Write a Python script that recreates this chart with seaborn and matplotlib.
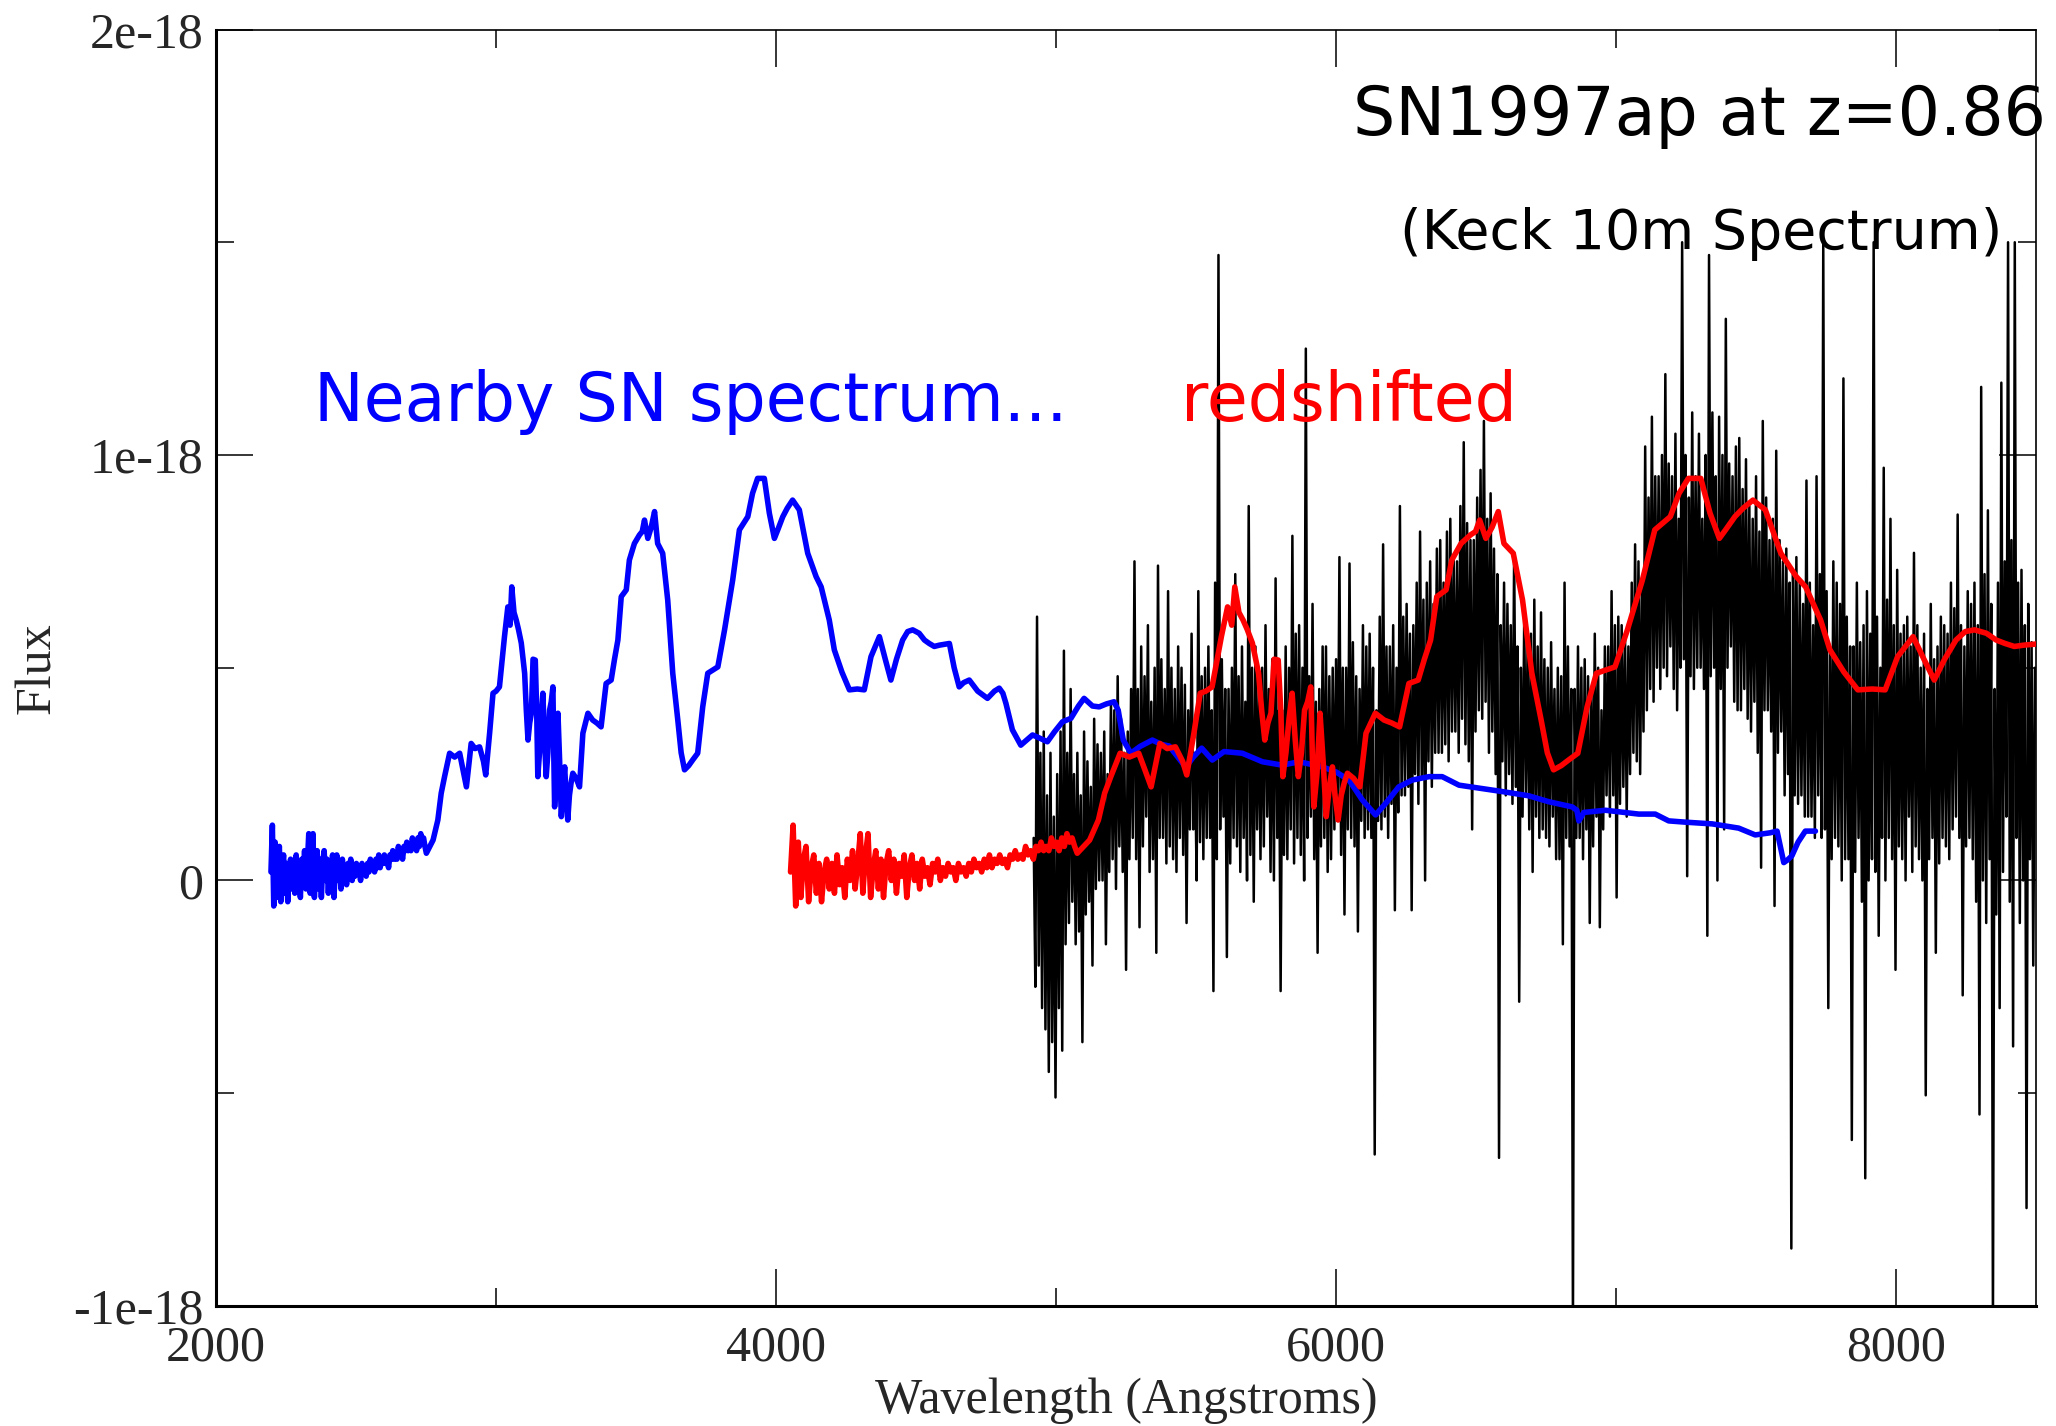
import numpy as np
import pandas as pd
import matplotlib
matplotlib.use("Agg")
import matplotlib.pyplot as plt
import seaborn as sns
from matplotlib.ticker import FixedLocator, FixedFormatter

# ---------------- data (flux in units of 1e-18) ----------------
flux_unit = 1e-18
stretch = 1.845  # wavelength stretch of the nearby spectrum (1+z as drawn)

# nearby SN spectrum (blue): noisy UV part sampled every 5 A from 2196 A
blue_noise_start = 2196
blue_noise_step = 5
blue_noise_flux = [
    0.02, 0.13, -0.06, 0.09, -0.04, 0.05, 0.08, -0.05, 0.03, 0.06,
    -0.03, 0.04, -0.05, 0.02, 0.05, -0.02, 0.04, -0.03, 0.06, -0.01,
    0.03, -0.04, 0.05, 0.00, 0.07, -0.02, 0.04, 0.11, -0.03, 0.06,
    0.11, -0.04, 0.03, 0.07, -0.02, 0.05, -0.04, 0.04, 0.07, 0.00,
    0.05, -0.03, 0.04, 0.01, 0.06, -0.04, 0.03, 0.06, 0.00, 0.04,
    -0.02, 0.05, 0.01, 0.03, -0.01, 0.04, 0.02, 0.05, 0.00, 0.03,
    0.01, 0.04, 0.02, 0.03, 0.00, 0.04, 0.02, 0.03, 0.01, 0.04,
    0.02, 0.05, 0.03, 0.04, 0.02, 0.05, 0.03, 0.06, 0.03, 0.05,
    0.04, 0.06, 0.04, 0.05, 0.03, 0.06, 0.05, 0.07, 0.05, 0.06,
    0.05, 0.08, 0.06, 0.07, 0.05, 0.08, 0.07, 0.09, 0.07, 0.08,
    0.07, 0.10, 0.08, 0.09, 0.07, 0.10, 0.08, 0.11, 0.09, 0.10,
    0.08,
]
blue_wave = [
    2751, 2775, 2792, 2804, 2816, 2834, 2852, 2870, 2882, 2894,
    2911, 2925, 2941, 2955, 2963, 2977, 2989, 3000, 3012, 3030,
    3042, 3050, 3056, 3064, 3072, 3080, 3090, 3102, 3108, 3114,
    3120, 3126, 3132, 3140, 3145, 3149, 3155, 3161, 3167, 3173,
    3179, 3185, 3191, 3197, 3203, 3206, 3209, 3215, 3221, 3227,
    3233, 3239, 3245, 3250, 3256, 3262, 3268, 3274, 3286, 3298,
    3310, 3328, 3345, 3360, 3375, 3393, 3411, 3423, 3435, 3447,
    3465, 3476, 3494, 3512, 3522, 3530, 3542, 3554, 3566, 3577,
    3595, 3613, 3631, 3649, 3661, 3673, 3688, 3702, 3720, 3738,
    3756, 3775, 3792, 3816, 3845, 3869, 3899, 3916, 3934, 3958,
    3976, 3994, 4006, 4024, 4040, 4059, 4083, 4113, 4143, 4161,
    4190, 4208, 4235, 4262, 4290, 4315, 4339, 4369, 4390, 4410,
    4430, 4452, 4470, 4488, 4511, 4530, 4547, 4565, 4583, 4600,
    4619, 4636, 4654, 4670, 4690, 4720, 4755, 4780, 4797, 4810,
    4821, 4844, 4874, 4895, 4916, 4940, 4969, 4995, 5023, 5053,
    5080, 5100, 5130, 5154, 5180, 5207, 5222, 5240, 5267, 5300,
    5344, 5375, 5404, 5435, 5463, 5490, 5520, 5558, 5600, 5665,
    5737, 5808, 5868, 5951, 6000, 6046, 6094, 6141, 6177, 6224,
    6272, 6332, 6379, 6439, 6510, 6593, 6688, 6760, 6843, 6860,
    6867, 6885, 6962, 7081, 7140, 7188, 7248, 7343, 7438, 7497,
    7550, 7575, 7590, 7599, 7612, 7628, 7650, 7676, 7712,
]
blue_flux = [
    0.064, 0.095, 0.142, 0.205, 0.244, 0.299, 0.290, 0.299, 0.260, 0.220,
    0.322, 0.310, 0.314, 0.280, 0.248, 0.347, 0.440, 0.445, 0.455, 0.573,
    0.643, 0.600, 0.690, 0.630, 0.612, 0.590, 0.558, 0.487, 0.400, 0.330,
    0.370, 0.393, 0.520, 0.518, 0.400, 0.244, 0.300, 0.380, 0.440, 0.330,
    0.244, 0.300, 0.400, 0.420, 0.455, 0.300, 0.173, 0.250, 0.393, 0.280,
    0.150, 0.220, 0.267, 0.200, 0.142, 0.200, 0.230, 0.252, 0.240, 0.220,
    0.346, 0.393, 0.377, 0.370, 0.361, 0.463, 0.471, 0.520, 0.565, 0.667,
    0.683, 0.753, 0.792, 0.812, 0.820, 0.847, 0.804, 0.830, 0.867, 0.792,
    0.769, 0.659, 0.487, 0.377, 0.300, 0.260, 0.270, 0.283, 0.299, 0.408,
    0.487, 0.495, 0.502, 0.589, 0.706, 0.824, 0.855, 0.910, 0.945, 0.945,
    0.863, 0.804, 0.824, 0.855, 0.875, 0.894, 0.871, 0.769, 0.714, 0.690,
    0.612, 0.542, 0.490, 0.448, 0.450, 0.448, 0.526, 0.573, 0.520, 0.471,
    0.520, 0.565, 0.585, 0.589, 0.581, 0.565, 0.557, 0.550, 0.553, 0.555,
    0.557, 0.500, 0.455, 0.465, 0.471, 0.445, 0.428, 0.445, 0.452, 0.440,
    0.416, 0.354, 0.318, 0.330, 0.342, 0.335, 0.326, 0.350, 0.373, 0.381,
    0.410, 0.428, 0.410, 0.408, 0.415, 0.420, 0.400, 0.330, 0.299, 0.315,
    0.330, 0.320, 0.316, 0.290, 0.266, 0.290, 0.311, 0.283, 0.303, 0.299,
    0.279, 0.271, 0.279, 0.267, 0.255, 0.236, 0.189, 0.154, 0.181, 0.220,
    0.236, 0.244, 0.244, 0.224, 0.217, 0.209, 0.199, 0.185, 0.173, 0.165,
    0.140, 0.160, 0.165, 0.156, 0.156, 0.140, 0.137, 0.133, 0.123, 0.107,
    0.112, 0.116, 0.070, 0.042, 0.048, 0.058, 0.090, 0.116, 0.116,
]

# observed Keck spectrum (black), sampled every 6 A from 4920 A
black_start = 4920
black_step = 6
black_flux = [
    0.10, -0.25, 0.62, -0.20, 0.30, -0.30, 0.35, -0.35, 0.20, -0.45,
    0.30, -0.38, 0.15, -0.51, 0.25, -0.30, 0.35, -0.40, 0.54, -0.15,
    0.30, -0.10, 0.45, -0.05, 0.25, -0.15, 0.30, -0.12, 0.20, -0.38,
    0.35, -0.08, 0.28, -0.05, 0.22, -0.20, 0.38, -0.02, 0.32, 0.00,
    0.30, 0.00, 0.35, -0.15, 0.25, 0.02, 0.42, 0.05, 0.40, -0.02,
    0.48, 0.08, 0.38, 0.02, 0.30, -0.21, 0.35, 0.05, 0.45, 0.10,
    0.75, 0.05, 0.45, -0.11, 0.55, 0.08, 0.48, 0.15, 0.60, 0.02,
    0.42, 0.05, 0.50, -0.17, 0.74, 0.10, 0.52, 0.10, 0.45, 0.04,
    0.68, 0.08, 0.50, 0.05, 0.45, 0.02, 0.55, 0.10, 0.50, 0.06,
    0.46, -0.10, 0.40, 0.12, 0.58, 0.12, 0.30, 0.00, 0.68, 0.09,
    0.48, 0.05, 0.50, 0.10, 0.55, 0.10, 0.40, -0.26, 0.70, 0.05,
    1.47, 0.12, 0.52, 0.15, 0.45, -0.18, 0.45, 0.04, 0.50, 0.10,
    0.72, 0.08, 0.48, 0.02, 0.55, 0.10, 0.42, 0.00, 0.88, 0.06,
    0.50, -0.05, 0.55, 0.12, 0.46, 0.05, 0.50, 0.08, 0.60, 0.15,
    0.45, 0.02, 0.52, 0.00, 0.71, 0.10, 0.40, -0.26, 0.40, 0.06,
    0.55, 0.05, 0.50, 0.12, 0.81, 0.04, 0.58, 0.10, 0.60, 0.06,
    0.50, 0.00, 1.25, 0.10, 0.48, 0.15, 0.65, 0.05, 0.42, -0.17,
    0.45, 0.08, 0.55, 0.10, 0.55, 0.02, 0.48, 0.05, 0.50, 0.12,
    0.52, 0.15, 0.76, 0.06, 0.50, -0.08, 0.50, 0.12, 0.745, 0.10,
    0.56, 0.08, 0.48, -0.12, 0.45, 0.14, 0.60, 0.10, 0.55, 0.12,
    0.58, 0.10, 0.50, -0.644, 0.40, 0.14, 0.62, 0.12, 0.79, 0.15,
    0.55, 0.10, 0.55, 0.18, 0.60, -0.07, 0.50, 0.16, 0.88, 0.20,
    0.62, 0.20, 0.65, 0.22, 0.58, -0.07, 0.60, 0.25, 0.70, 0.18,
    0.82, 0.24, 0.66, 0.00, 0.70, 0.28, 0.75, 0.22, 0.65, 0.30,
    0.78, 0.30, 0.80, 0.30, 0.70, 0.32, 0.82, 0.28, 0.85, 0.35,
    0.76, 0.35, 0.75, 0.30, 0.88, 0.38, 1.03, 0.32, 0.84, 0.28,
    0.80, 0.12, 0.80, 0.35, 0.90, 0.40, 0.965, 0.38, 1.08, 0.42,
    0.85, 0.30, 0.91, 0.35, 0.78, 0.25, 0.72, -0.652, 0.60, 0.28,
    0.70, 0.20, 0.65, 0.25, 0.60, 0.18, 0.77, 0.22, 0.55, -0.285,
    0.50, 0.15, 0.62, 0.20, 0.55, 0.12, 0.58, 0.02, 0.66, 0.15,
    0.55, 0.10, 0.63, 0.12, 0.52, 0.10, 0.50, 0.08, 0.56, 0.15,
    0.45, 0.05, 0.50, 0.05, 0.48, -0.15, 0.70, 0.10, 0.55, 0.08,
    0.45, -1.05, 0.45, 0.10, 0.55, 0.10, 0.50, 0.05, 0.52, 0.12,
    0.48, -0.10, 0.45, 0.08, 0.58, 0.15, 0.50, -0.11, 0.40, 0.12,
    0.55, 0.20, 0.55, 0.15, 0.68, 0.20, 0.60, -0.04, 0.62, 0.18,
    0.60, 0.22, 0.58, 0.15, 0.55, 0.25, 0.70, 0.30, 0.79, 0.28,
    0.75, 0.25, 0.70, 0.35, 1.02, 0.40, 0.90, 0.45, 1.09, 0.42,
    0.95, 0.50, 0.95, 0.45, 1.00, 0.50, 1.19, 0.48, 0.98, 0.55,
    0.95, 0.45, 1.05, 0.40, 0.85, 0.50, 1.50, 0.52, 1.00, 0.01,
    0.90, 0.48, 1.10, 0.45, 0.95, 0.50, 1.05, 0.50, 0.85, 0.45,
    1.00, -0.13, 1.47, 0.48, 1.10, 0.50, 0.95, 0.00, 1.09, 0.45,
    1.00, 0.12, 1.32, 0.50, 0.98, 0.55, 0.95, 0.42, 1.02, 0.40,
    1.04, 0.40, 0.92, 0.45, 0.99, 0.38, 0.88, 0.35, 0.85, 0.42,
    0.95, 0.30, 0.82, 0.03, 1.08, 0.40, 0.90, 0.40, 0.80, 0.35,
    0.85, -0.06, 1.01, 0.30, 0.80, 0.35, 0.75, 0.20, 0.78, 0.25,
    0.70, -0.865, 0.72, 0.20, 0.76, 0.18, 0.70, 0.20, 0.65, 0.15,
    0.94, 0.15, 0.70, 0.15, 0.60, 0.10, 0.95, 0.20, 0.72, 0.10,
    1.50, 0.12, 0.68, -0.30, 0.55, 0.05, 0.75, 0.10, 0.70, 0.08,
    0.65, 0.00, 1.18, 0.05, 0.62, 0.05, 0.55, -0.61, 0.55, 0.02,
    0.70, 0.10, 0.56, -0.05, 0.60, -0.70, 0.68, 0.00, 0.58, 0.05,
    1.50, 0.02, 0.62, -0.13, 0.50, 0.10, 0.97, 0.00, 0.66, 0.10,
    0.85, 0.05, 0.60, -0.21, 0.73, 0.08, 0.58, 0.05, 0.60, 0.00,
    0.62, 0.15, 0.55, 0.02, 0.77, 0.08, 0.60, 0.05, 0.50, 0.00,
    0.58, -0.505, 0.45, 0.05, 0.65, 0.10, 0.52, -0.17, 0.55, 0.04,
    0.62, 0.10, 0.60, 0.08, 0.58, 0.05, 0.70, 0.12, 0.64, 0.15,
    0.86, 0.10, 0.60, -0.27, 0.55, 0.08, 0.68, 0.10, 0.65, 0.05,
    0.70, -0.05, 0.60, -0.55, 1.16, 0.00, 0.72, -0.10, 0.87, 0.05,
    0.65, -1.05, 0.45, -0.08, 0.70, -0.30, 1.17, 0.02, 0.75, 0.15,
    1.50, -0.05, 0.80, -0.39, 1.50, 0.10, 0.70, -0.10, 0.73, 0.00,
    0.60, -0.77, 0.65, 0.05, 0.56, -0.20, 0.50,
]

xtick_major = [2000, 4000, 6000, 8000]
xtick_labels = ["2000", "4000", "6000", "8000"]
xtick_minor = [3000, 5000, 7000]
ytick_major = [-1, 0, 1, 2]
ytick_labels = ["-1e-18", "0", "1e-18", "2e-18"]
ytick_minor = [-0.5, 0.5, 1.5]

# ---------------- tables ----------------
bn_wave = blue_noise_start + blue_noise_step * np.arange(len(blue_noise_flux))
df_blue = pd.DataFrame({
    "wave": np.concatenate([bn_wave, np.array(blue_wave, float)]),
    "flux": np.concatenate([np.array(blue_noise_flux), np.array(blue_flux)]) * flux_unit,
})
df_red = pd.DataFrame({"wave": df_blue["wave"] * stretch, "flux": df_blue["flux"]})
df_black = pd.DataFrame({
    "wave": black_start + black_step * np.arange(len(black_flux)),
    "flux": np.array(black_flux) * flux_unit,
})

# ---------------- figure ----------------
sns.set_style("ticks")
plt.rcParams["font.family"] = ["DejaVu Sans"]
serif = ["Liberation Serif", "DejaVu Serif"]

fig = plt.figure(figsize=(20.56, 14.26), dpi=100)
ax = fig.add_axes([0.1051, 0.0842, 0.8852, 0.8951])

sns.lineplot(data=df_black, x="wave", y="flux", color="black", lw=1.8,
             estimator=None, sort=False, ax=ax, zorder=2)
sns.lineplot(data=df_blue, x="wave", y="flux", color="#0000ff", lw=4.0,
             estimator=None, sort=False, ax=ax, zorder=3)
sns.lineplot(data=df_red, x="wave", y="flux", color="#ff0000", lw=4.0,
             estimator=None, sort=False, ax=ax, zorder=4)

ax.set_xlim(2000, 8500)
ax.set_ylim(-1 * flux_unit, 2 * flux_unit)

ax.xaxis.set_major_locator(FixedLocator(xtick_major))
ax.xaxis.set_major_formatter(FixedFormatter(xtick_labels))
ax.xaxis.set_minor_locator(FixedLocator(xtick_minor))
ax.yaxis.set_major_locator(FixedLocator([v * flux_unit for v in ytick_major]))
ax.yaxis.set_major_formatter(FixedFormatter(ytick_labels))
ax.yaxis.set_minor_locator(FixedLocator([v * flux_unit for v in ytick_minor]))

ax.tick_params(which="both", direction="in", top=True, right=True,
               width=1.1, color="black")
ax.tick_params(which="major", length=26.6)
ax.tick_params(which="minor", length=13)
ax.tick_params(axis="x", which="major", pad=14)
ax.tick_params(axis="y", which="major", pad=9)
for lab in ax.get_xticklabels() + ax.get_yticklabels():
    lab.set_fontfamily(serif)
    lab.set_fontsize(36)

for side in ["left", "bottom"]:
    ax.spines[side].set_linewidth(2.2)
for side in ["top", "right"]:
    ax.spines[side].set_linewidth(1.2)
for sp in ax.spines.values():
    sp.set_color("black")

ax.set_xlabel("Wavelength (Angstroms)", fontfamily=serif, fontsize=36, labelpad=4)
ax.set_ylabel("Flux", fontfamily=serif, fontsize=36, labelpad=9)

ax.text(6060, 1.752 * flux_unit, "SN1997ap at z=0.86", fontsize=48,
        ha="left", va="baseline", color="black", zorder=5)
ax.text(7305, 1.484 * flux_unit, "(Keck 10m Spectrum)", fontsize=40,
        ha="center", va="baseline", color="black", zorder=5)
ax.text(2351, 1.08 * flux_unit, "Nearby SN spectrum...", fontsize=48,
        ha="left", va="baseline", color="#0000ff", zorder=5)
ax.text(5445, 1.08 * flux_unit, "redshifted", fontsize=48,
        ha="left", va="baseline", color="#ff0000", zorder=5)

fig.savefig("out.png", dpi=100, facecolor="white")
